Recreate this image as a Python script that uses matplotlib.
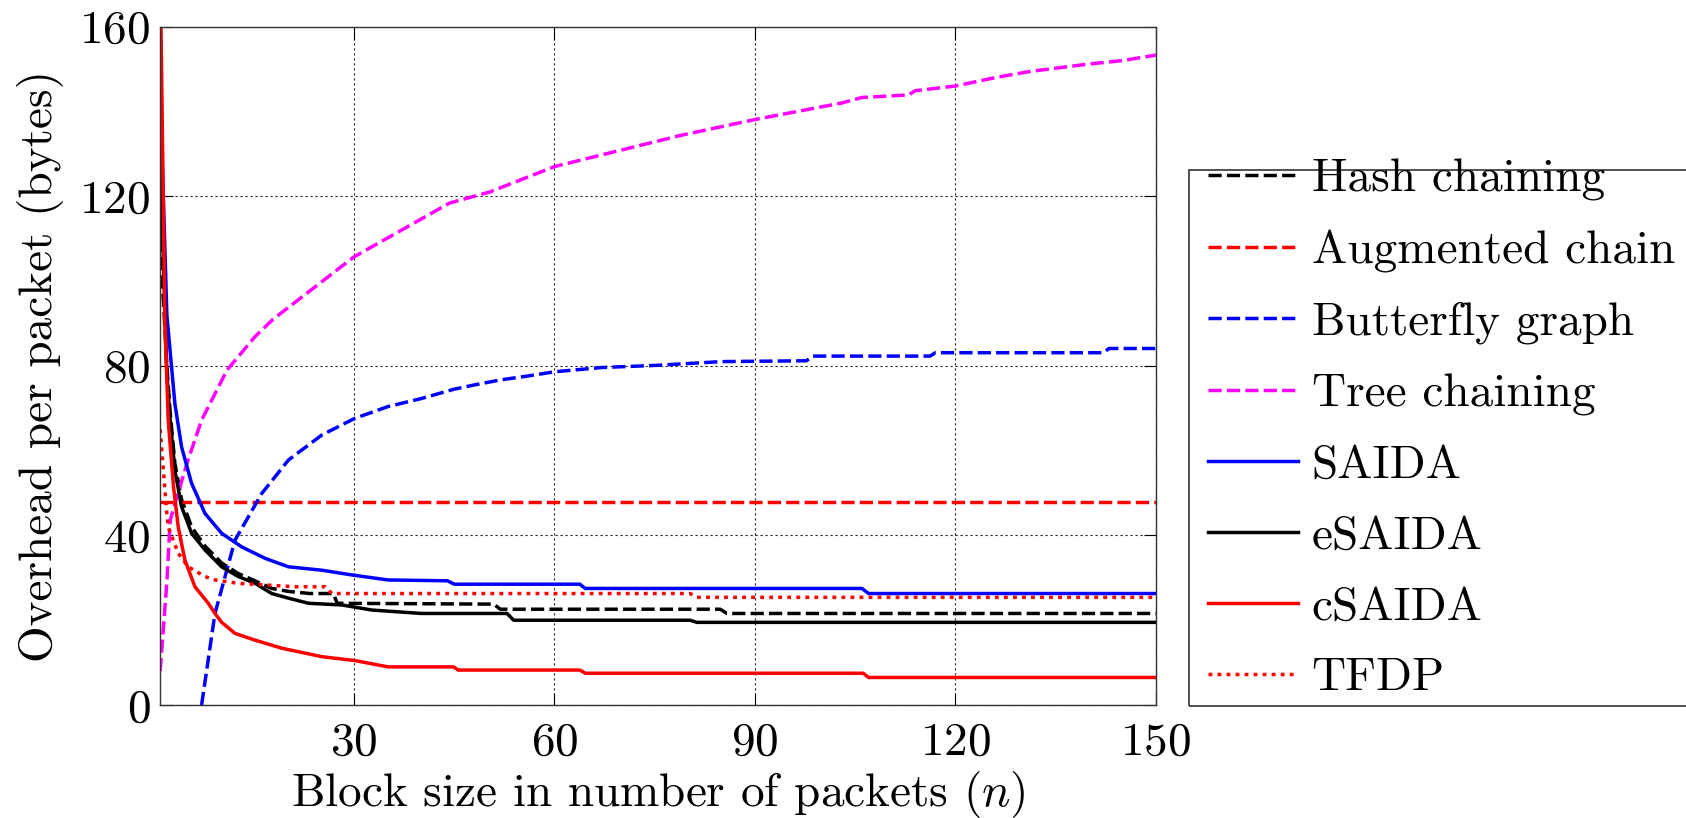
import matplotlib
matplotlib.use("Agg")
import matplotlib.pyplot as plt
from matplotlib.patches import Rectangle

# values (n, bytes per packet)
hash_n = [1, 2, 2.5, 3.2, 4.2, 5.7, 7.7, 10.2, 12.7, 15.2, 17.7, 20.2, 23.4, 26.9, 27.5, 50.9, 51.9, 84.8, 85.8, 150]
hash_v = [110, 80, 69, 57, 48.5, 42, 37.5, 33.5, 31, 29.3, 27.5, 26.8, 26.3, 26.3, 24, 23.8, 22.6, 22.6, 21.6, 21.6]

aug_n = [1, 150]
aug_v = [48, 48]

bfly_n = [7.2, 9.2, 12.2, 16.2, 20.2, 25.2, 30.1, 35.1, 40.1, 45, 48, 52, 56, 60, 67, 75, 85, 97.7, 98.7, 116.2, 117, 142.1, 143, 150]
bfly_v = [0, 21.6, 38.9, 49.9, 57.8, 63.7, 67.6, 70.4, 72.3, 74.5, 75.5, 76.7, 77.6, 78.6, 79.6, 80.1, 81, 81.2, 82.3, 82.3, 83.1, 83.1, 84.1, 84.1]

tree_n = [1, 2, 2.5, 5, 7.2, 11, 15.2, 17.9, 30, 44.3, 50.3, 60, 70, 79, 90, 103, 106, 113, 114, 120, 126, 131, 140, 145, 150]
tree_v = [8, 29, 43.6, 57, 67.2, 79, 86.9, 91, 105.7, 118.4, 121, 127, 130.9, 134.4, 138.1, 142, 143.3, 143.9, 144.9, 146, 148, 149.4, 151.2, 152, 153.3]

saida_n = [1, 2, 3.2, 4.2, 5.7, 7.7, 10.2, 13.2, 16.7, 20.2, 25.2, 29.6, 35.1, 44, 45, 63.8, 64.6, 106, 107, 150]
saida_v = [145, 92, 71.1, 60.9, 52.3, 45.2, 40.5, 37.3, 34.6, 32.6, 31.8, 30.7, 29.5, 29.3, 28.5, 28.5, 27.5, 27.5, 26.3, 26.3]

esaida_n = [1, 2, 2.5, 3.2, 4.2, 5.7, 7.7, 10.2, 12.7, 15.2, 17.7, 20.2, 23.2, 28.2, 32.7, 40.1, 52.9, 53.9, 80.3, 81.3, 150]
esaida_v = [130, 78, 67.2, 55.4, 46.8, 40.5, 36.6, 32.6, 30.3, 28.7, 26.3, 25.2, 24, 23.6, 22.4, 21.6, 21.6, 20, 20, 19.5, 19.5]

csaida_n = [1, 1.7, 2.2, 3, 3.7, 4.7, 6.2, 8.2, 9.2, 10.2, 12.2, 15.2, 19.2, 25.2, 30.1, 35.1, 44.9, 45.6, 63.8, 64.6, 106.2, 107, 150]
csaida_v = [175, 90.8, 67.2, 51.5, 42, 34.2, 27.9, 24, 21.6, 19.5, 16.9, 15.3, 13.4, 11.4, 10.5, 9.0, 9.0, 8.25, 8.25, 7.5, 7.5, 6.5, 6.5]

tfdp_n = [1, 2, 2.2, 3.7, 5.2, 7.7, 9.2, 12.7, 21.2, 25.7, 26.7, 80.3, 81.3, 150]
tfdp_v = [65, 45, 42, 35.8, 32.6, 30.3, 29.5, 28.7, 27.9, 27.9, 26.3, 26.3, 25.4, 25.4]

x_ticks = [30, 60, 90, 120, 150]
y_ticks = [0, 40, 80, 120, 160]

plt.rcParams['font.family'] = 'cmr10'
plt.rcParams['mathtext.fontset'] = 'cm'
plt.rcParams['axes.formatter.use_mathtext'] = True
plt.rcParams['font.size'] = 34

fig = plt.figure(figsize=(16.86, 8.18), dpi=100)
ax = fig.add_axes([0.0950, 0.1381, 0.5906, 0.8293])

lw = 2.5
dash = (0, (3.8, 1.5))
dot = (0, (1.1, 1.5))
ax.plot(hash_n, hash_v, color='k', lw=lw, linestyle=dash, label='Hash chaining')
ax.plot(aug_n, aug_v, color='#ff0000', lw=lw, linestyle=dash, label='Augmented chain')
ax.plot(bfly_n, bfly_v, color='#0000ff', lw=lw, linestyle=dash, label='Butterfly graph')
ax.plot(tree_n, tree_v, color='#ff00ff', lw=lw, linestyle=dash, label='Tree chaining')
ax.plot(saida_n, saida_v, color='#0000ff', lw=lw, label='SAIDA')
ax.plot(esaida_n, esaida_v, color='k', lw=lw, label='eSAIDA')
ax.plot(csaida_n, csaida_v, color='#ff0000', lw=lw, label='cSAIDA')
ax.plot(tfdp_n, tfdp_v, color='#ff0000', lw=lw, linestyle=dot, label='TFDP')

ax.set_xlim(1, 150)
ax.set_ylim(0, 160)
ax.set_xticks(x_ticks)
ax.set_yticks(y_ticks)
ax.grid(True, color='0.15', linestyle=(0, (2, 2.5)), linewidth=0.8)
ax.tick_params(direction='in', length=9, width=0.8, top=True, right=True)
ax.tick_params(axis='x', pad=12)
ax.tick_params(axis='y', pad=7)
for s in ax.spines.values():
    s.set_linewidth(1.0)
    s.set_color('0.2')

ax.set_xlabel('Block size in number of packets ($n$)', labelpad=4)
ax.set_ylabel('Overhead per packet (bytes)', labelpad=11)

leg = fig.legend(loc='center left', bbox_to_anchor=(0.7052, 0.4756),
                 borderaxespad=0, frameon=False, handlelength=1.9, handletextpad=0.3,
                 borderpad=0.4, labelspacing=0.61)

# legend box, as in the original it runs off the right edge
fig.patches.append(Rectangle((0.7052, 0.1369), 0.35, 0.6553, transform=fig.transFigure,
                             fill=False, edgecolor='0.2', linewidth=1.2, clip_on=False))

fig.savefig('out.png', dpi=100)
